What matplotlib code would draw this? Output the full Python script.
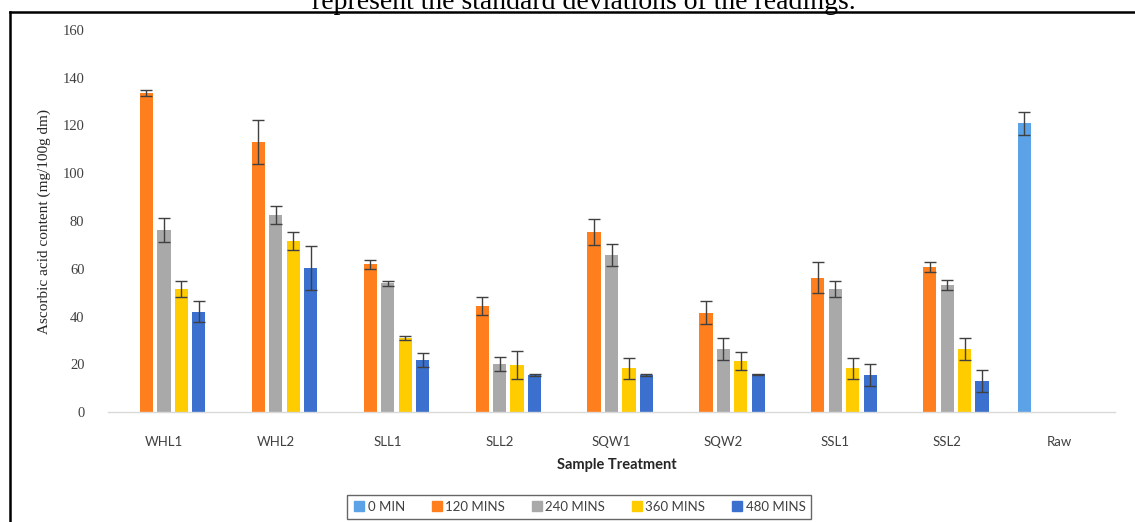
import matplotlib
matplotlib.use("Agg")
import matplotlib.pyplot as plt
from matplotlib.lines import Line2D
import numpy as np

categories = ["WHL1", "WHL2", "SLL1", "SLL2", "SQW1", "SQW2", "SSL1", "SSL2", "Raw"]
series_names = ["0 MIN", "120 MINS", "240 MINS", "360 MINS", "480 MINS"]

nan = np.nan
min0 = [nan, nan, nan, nan, nan, nan, nan, nan, 120.9]
min120 = [133.5, 113.2, 61.9, 44.4, 75.5, 41.6, 56.3, 60.6, nan]
min240 = [76.1, 82.4, 53.9, 20.1, 65.8, 26.3, 51.5, 53.1, nan]
min360 = [51.5, 71.6, 30.9, 19.7, 18.3, 21.4, 18.3, 26.3, nan]
min480 = [42.0, 60.2, 21.8, 15.5, 15.5, 15.8, 15.5, 13.1, nan]

err0 = [nan, nan, nan, nan, nan, nan, nan, nan, 4.7]
err120 = [1.3, 9.3, 1.9, 3.8, 5.4, 4.7, 6.6, 2.1, nan]
err240 = [5.0, 3.8, 1.1, 2.8, 4.5, 4.5, 3.2, 2.0, nan]
err360 = [3.5, 3.9, 0.8, 6.0, 4.5, 3.8, 4.5, 4.5, nan]
err480 = [4.4, 9.3, 2.8, 0.3, 0.3, 0.3, 4.5, 4.6, nan]

values = [min0, min120, min240, min360, min480]
errors = [err0, err120, err240, err360, err480]
colors = ["#5BA3E6", "#FF7F1F", "#A9A9A9", "#FFCC00", "#3B70CF"]

fig = plt.figure(figsize=(11.35, 5.22), dpi=100)
ax = fig.add_axes([108 / 1135, 1 - 412 / 522, (1115 - 108) / 1135, (412 - 30) / 522])

x = np.arange(len(categories))
slot = 0.156
width = 0.118
handles = []
for i, (vals, errs, col, name) in enumerate(zip(values, errors, colors, series_names)):
    pos = x + (i - 2) * slot
    ax.bar(pos, vals, width=width, color=col, label=name, zorder=2)
    ax.errorbar(pos, vals, yerr=errs, fmt="none", ecolor="#404040", elinewidth=1.0,
                capsize=4.5, capthick=1.0, zorder=3)
    handles.append(Line2D([], [], marker="s", linestyle="none", markersize=6.5,
                          markerfacecolor=col, markeredgecolor=col, label=name))

ax.set_xlim(-0.5, len(categories) - 0.5)
ax.set_ylim(0, 160)
ax.set_yticks(np.arange(0, 161, 20))
ax.set_xticks(x)
ax.set_xticklabels(categories, fontfamily="Lato", fontsize=9.5, color="#404040")
for lab in ax.get_yticklabels():
    lab.set_fontfamily("Liberation Serif")
    lab.set_fontsize(10.5)
    lab.set_color("#404040")
ax.tick_params(axis="both", length=0)
ax.tick_params(axis="y", pad=17)
ax.tick_params(axis="x", pad=17)
for s in ["top", "right", "left"]:
    ax.spines[s].set_visible(False)
ax.spines["bottom"].set_color("#D9D9D9")
ax.spines["bottom"].set_linewidth(1.0)

fig.text(44 / 1135, 1 - 222 / 522, "Ascorbic acid content (mg/100g dm)", rotation=90,
         ha="center", va="center", fontfamily="Liberation Serif", fontsize=11, color="#262626")
fig.text(617 / 1135, 1 - 465 / 522, "Sample Treatment", ha="center", va="center",
         fontfamily="Lato", fontweight="bold", fontsize=10.5, color="#262626")

leg = fig.legend(handles=handles, loc="center", bbox_to_anchor=(579 / 1135, 1 - 507 / 522),
                 ncol=5, frameon=True, fancybox=False, edgecolor="#404040",
                 prop={"family": "Lato", "size": 9.5}, handletextpad=0.15,
                 columnspacing=1.9, borderpad=0.45, handlelength=1.0)
leg.get_frame().set_linewidth(1.0)
for t in leg.get_texts():
    t.set_color("#404040")

fig.text(584 / 1135, 1 - 9 / 522, "represent the standard deviations of the readings.",
         ha="center", va="baseline", fontfamily="Liberation Serif", fontsize=20, color="black")

fig.add_artist(Line2D([10 / 1135, 1.01], [1 - 12 / 522, 1 - 12 / 522], color="black",
                      linewidth=1.8, transform=fig.transFigure))
fig.add_artist(Line2D([10 / 1135, 10 / 1135], [1 - 12 / 522, -0.01], color="black",
                      linewidth=1.8, transform=fig.transFigure))

fig.savefig("out.png", dpi=100)
